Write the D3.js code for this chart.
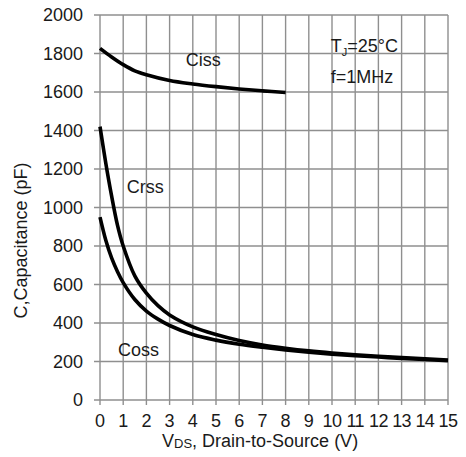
<!DOCTYPE html>
<html>
<head>
<meta charset="utf-8">
<script src="https://cdn.jsdelivr.net/npm/d3@7"></script>
<style>
  body { margin: 0; background: #fff; }
  svg text { font-family: "Liberation Sans", Arial, sans-serif; fill: #1a1a1a; }
</style>
</head>
<body>
<div id="chart"></div>
<script>
// Capacitance vs drain-to-source voltage
const xTicks = d3.range(0, 16);
const yTicks = d3.range(0, 2001, 200);

const cissV = [0, 0.5, 1, 1.5, 2, 3, 4, 5, 6, 7, 8];
const cissC = [1827, 1782, 1742, 1710, 1690, 1660, 1642, 1628, 1616, 1606, 1597];

const crssV = [0, 0.25, 0.5, 0.75, 1, 1.5, 2, 2.5, 3, 4, 5, 6, 7, 8, 9, 10, 11, 12, 13, 14, 15];
const crssC = [1420, 1230, 1060, 910, 800, 645, 555, 490, 442, 380, 340, 309, 286, 269, 255, 244, 235, 227, 220, 214, 208];

const cossV = [0, 0.25, 0.5, 0.75, 1, 1.5, 2, 2.5, 3, 4, 5, 6, 7, 8, 9, 10, 11, 12, 13, 14, 15];
const cossC = [950, 830, 738, 668, 610, 522, 462, 420, 387, 340, 311, 290, 274, 260, 248, 238, 230, 223, 216, 210, 204];

const width = 466, height = 457;
const margin = { top: 15, right: 18, bottom: 57, left: 100 };
const innerW = width - margin.left - margin.right;
const innerH = height - margin.top - margin.bottom;

const svg = d3.select("#chart").append("svg")
  .attr("width", width)
  .attr("height", height);
const g = svg.append("g")
  .attr("transform", `translate(${margin.left},${margin.top})`);

const x = d3.scaleLinear().domain([0, 15]).range([0, innerW]);
const y = d3.scaleLinear().domain([0, 2000]).range([innerH, 0]);

const gridColor = "#8f8f8f";

// grid
g.append("g").selectAll("line").data(xTicks).join("line")
  .attr("x1", d => x(d)).attr("x2", d => x(d))
  .attr("y1", 0).attr("y2", innerH + 5)
  .attr("stroke", gridColor).attr("stroke-width", 1.4);
g.append("g").selectAll("line").data(yTicks).join("line")
  .attr("x1", -6).attr("x2", innerW)
  .attr("y1", d => y(d)).attr("y2", d => y(d))
  .attr("stroke", gridColor).attr("stroke-width", 1.4);

// tick labels
g.append("g").selectAll("text").data(yTicks).join("text")
  .attr("x", -17).attr("y", d => y(d))
  .attr("dy", "0.36em")
  .attr("text-anchor", "end")
  .attr("font-size", 18)
  .text(d => d);
g.append("g").selectAll("text").data(xTicks).join("text")
  .attr("x", d => x(d)).attr("y", innerH + 27)
  .attr("text-anchor", "middle")
  .attr("font-size", 18)
  .attr("letter-spacing", d => d >= 10 ? -0.6 : 0)
  .text(d => d);

// curves
const line = d3.line()
  .x(d => x(d[0]))
  .y(d => y(d[1]))
  .curve(d3.curveCatmullRom.alpha(0.5));

const series = [
  d3.zip(cissV, cissC),
  d3.zip(crssV, crssC),
  d3.zip(cossV, cossC)
];
g.append("g").selectAll("path").data(series).join("path")
  .attr("d", line)
  .attr("fill", "none")
  .attr("stroke", "#000")
  .attr("stroke-width", 3.6)
  .attr("stroke-linejoin", "round");

// labels
const labels = [
  { t: "Ciss", v: 3.7, c: 1770 },
  { t: "Crss", v: 1.15, c: 1110 },
  { t: "Coss", v: 0.78, c: 260 },
  { t: "f=1MHz", v: 9.95, c: 1680 }
];
g.append("g").selectAll("text").data(labels).join("text")
  .attr("x", d => x(d.v)).attr("y", d => y(d.c))
  .attr("dy", "0.36em")
  .attr("font-size", 18)
  .text(d => d.t);

const tj = g.append("text")
  .attr("x", x(9.95)).attr("y", y(1840))
  .attr("dy", "0.36em")
  .attr("font-size", 18);
tj.append("tspan").text("T");
tj.append("tspan").attr("font-size", 11).attr("dy", 4).text("J");
tj.append("tspan").attr("dy", -4).text("=25°C");

// axis titles
const xt = svg.append("text")
  .attr("x", 162).attr("y", 447)
  .attr("font-size", 18);
xt.append("tspan").text("V");
xt.append("tspan").attr("font-size", 13).attr("dy", 1).text("DS");
xt.append("tspan").attr("dy", -1).text(", Drain-to-Source (V)");

svg.append("text")
  .attr("transform", `translate(27,${margin.top + innerH / 2 + 33}) rotate(-90)`)
  .attr("text-anchor", "middle")
  .attr("font-size", 18)
  .text("C,Capacitance (pF)");
</script>
</body>
</html>
